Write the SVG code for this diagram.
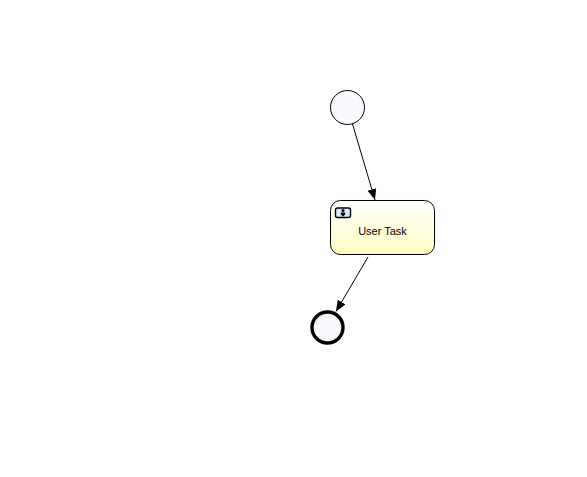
<svg xmlns="http://www.w3.org/2000/svg" width="587" height="477" viewBox="0 0 587 477">
  <style>
    .conn { fill: none; stroke: #000; stroke-width: 1; }
    .ev { fill: #f8f9fd; stroke: #000; }
    text { font-family: "Liberation Sans", Arial, sans-serif; font-size: 11px; fill: #000; text-anchor: middle; }
  </style>
  <defs>
    <linearGradient id="taskFill" x1="0" y1="0" x2="0" y2="1">
      <stop offset="0" stop-color="#ffffff"/>
      <stop offset="1" stop-color="#ffffc4"/>
    </linearGradient>
    <marker id="arrow" markerUnits="userSpaceOnUse" markerWidth="12" markerHeight="10" refX="11" refY="4.5" orient="auto">
      <path d="M0,0 L11,4.5 L0,9 Z" fill="#000"/>
    </marker>
  </defs>
  <rect width="587" height="477" fill="#fff"/>
  <g id="connectors">
    <line class="conn" x1="352.5" y1="124" x2="375" y2="200" marker-end="url(#arrow)"/>
    <line class="conn" x1="368" y1="257" x2="336" y2="311.5" marker-end="url(#arrow)"/>
  </g>
  <g id="start-event">
    <circle class="ev" cx="347.5" cy="107.5" r="17" stroke-width="1"/>
  </g>
  <g id="user-task">
    <rect x="330.5" y="200.5" width="104" height="54" rx="10" ry="10" fill="url(#taskFill)" stroke="#000" stroke-width="1"/>
    <rect x="335.5" y="208" width="15" height="9.5" rx="2" ry="2" fill="#d8ecf8" stroke="#000" stroke-width="1.4"/>
    <circle cx="343" cy="210.5" r="1.5" fill="#000"/>
    <path d="M340.8,212.5 H345.2 V214.5 L343,216.5 L340.8,214.5 Z" fill="#000"/>
    <text x="382.5" y="235">User Task</text>
  </g>
  <g id="end-event">
    <circle class="ev" cx="327.5" cy="327.5" r="15.5" stroke-width="3.4"/>
  </g>
</svg>
